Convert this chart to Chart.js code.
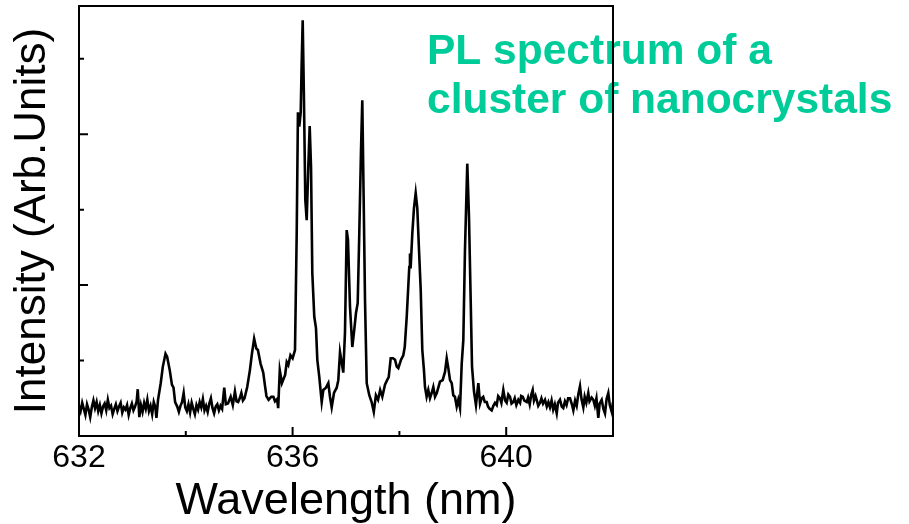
<!DOCTYPE html>
<html>
<head>
<meta charset="utf-8">
<script src="https://cdn.jsdelivr.net/npm/chart.js@4.4.1/dist/chart.umd.min.js"></script>
<style>
  body { margin: 0; background: #fff; }
  canvas { display: block; }
</style>
</head>
<body>
<canvas id="myChart" width="909" height="524"></canvas>
<script>
// PL spectrum (nm, arb. units)
var wavelength = [
  632.00, 632.03, 632.06, 632.09, 632.12, 632.15, 632.18, 632.21, 632.24, 632.27,
  632.30, 632.33, 632.36, 632.39, 632.42, 632.45, 632.48, 632.51, 632.54, 632.57,
  632.60, 632.63, 632.66, 632.69, 632.72, 632.75, 632.78, 632.81, 632.84, 632.87,
  632.90, 632.93, 632.96, 632.99, 633.02, 633.05, 633.08, 633.10, 633.13, 633.16,
  633.19, 633.22, 633.25, 633.28, 633.31, 633.34, 633.37, 633.40, 633.43, 633.45,
  633.48, 633.53, 633.57, 633.62, 633.65, 633.70, 633.74, 633.77, 633.80, 633.84,
  633.87, 633.90, 633.93, 633.96, 633.99, 634.02, 634.05, 634.08, 634.11, 634.14,
  634.17, 634.20, 634.23, 634.26, 634.29, 634.32, 634.35, 634.38, 634.41, 634.44,
  634.47, 634.50, 634.53, 634.56, 634.59, 634.62, 634.65, 634.68, 634.72, 634.75,
  634.79, 634.84, 634.88, 634.92, 634.95, 634.98, 635.01, 635.04, 635.07, 635.10,
  635.15, 635.20, 635.24, 635.28, 635.32, 635.35, 635.40, 635.45, 635.48, 635.51,
  635.55, 635.60, 635.64, 635.67, 635.71, 635.73, 635.76, 635.80, 635.86, 635.89,
  635.92, 635.96, 636.00, 636.045, 636.077, 636.10, 636.125, 636.152, 636.17, 636.189,
  636.213, 636.238, 636.264, 636.294, 636.32, 636.345, 636.369, 636.406, 636.438, 636.463,
  636.50, 636.545, 636.575, 636.625, 636.669, 636.70, 636.732, 636.775, 636.826, 636.856,
  636.888, 636.919, 636.949, 636.981, 637.013, 637.037, 637.075, 637.118, 637.155, 637.187,
  637.219, 637.249, 637.281, 637.305, 637.331, 637.356, 637.388, 637.436, 637.48, 637.52,
  637.56, 637.60, 637.64, 637.68, 637.73, 637.77, 637.80, 637.837, 637.88, 637.918,
  637.95, 637.98, 638.03, 638.073, 638.10, 638.137, 638.185, 638.198, 638.21, 638.242,
  638.273, 638.305, 638.335, 638.367, 638.399, 638.429, 638.46, 638.479, 638.51, 638.541,
  638.573, 638.605, 638.635, 638.667, 638.70, 638.76, 638.81, 638.854, 638.886, 638.916,
  638.948, 638.98, 639.009, 639.04, 639.073, 639.103, 639.135, 639.167, 639.197, 639.228,
  639.271, 639.303, 639.335, 639.36, 639.397, 639.434, 639.478, 639.51, 639.54, 639.57,
  639.60, 639.635, 639.66, 639.69, 639.728, 639.76, 639.79, 639.822, 639.85, 639.884,
  639.91, 639.946, 639.98, 640.009, 640.04, 640.071, 640.10, 640.133, 640.16, 640.19,
  640.227, 640.26, 640.28, 640.309, 640.34, 640.384, 640.41, 640.44, 640.47, 640.496,
  640.52, 640.55, 640.571, 640.60, 640.633, 640.66, 640.69, 640.727, 640.76, 640.79,
  640.82, 640.85, 640.88, 640.91, 640.946, 640.97, 641.007, 641.04, 641.069, 641.10,
  641.13, 641.16, 641.195, 641.23, 641.257, 641.29, 641.32, 641.35, 641.382, 641.41,
  641.444, 641.47, 641.50, 641.537, 641.56, 641.60, 641.631, 641.66, 641.69, 641.725,
  641.75, 641.788, 641.82, 641.85, 641.88, 641.912, 641.94, 641.976, 642.00
];
var intensity = [
  0.40, 0.33, 0.44, 0.36, 0.28, 0.42, 0.35, 0.25, 0.38, 0.47,
  0.37, 0.45, 0.33, 0.41, 0.30, 0.39, 0.43, 0.34, 0.48, 0.37,
  0.40, 0.29, 0.36, 0.42, 0.33, 0.39, 0.44, 0.31, 0.38, 0.35,
  0.41, 0.28, 0.37, 0.43, 0.34, 0.39, 0.46, 0.62, 0.25, 0.41,
  0.32, 0.44, 0.36, 0.48, 0.33, 0.40, 0.29, 0.45, 0.38, 0.24,
  0.48, 0.70, 0.92, 1.09, 1.05, 0.87, 0.68, 0.64, 0.45, 0.39,
  0.32, 0.40, 0.45, 0.57, 0.38, 0.33, 0.42, 0.31, 0.44, 0.36,
  0.29, 0.41, 0.35, 0.45, 0.38, 0.49, 0.34, 0.40, 0.32, 0.43,
  0.50, 0.37, 0.30, 0.39, 0.42, 0.34, 0.40, 0.36, 0.64, 0.42,
  0.43, 0.52, 0.41, 0.59, 0.46, 0.45, 0.50, 0.57, 0.47, 0.50,
  0.65, 0.87, 1.10, 1.29, 1.16, 1.14, 0.96, 0.84, 0.68, 0.53,
  0.48, 0.52, 0.52, 0.46, 0.49, 0.37, 0.87, 0.70, 0.81, 0.98,
  0.94, 1.07, 1.03, 1.14, 2.69, 4.29, 4.10, 4.29, 4.94, 5.51,
  4.45, 3.13, 2.86, 3.57, 4.11, 3.57, 2.16, 1.58, 1.43, 1.01,
  0.78, 0.45, 0.61, 0.64, 0.70, 0.52, 0.38, 0.57, 0.64, 0.74,
  1.11, 0.98, 0.84, 1.37, 2.73, 2.60, 1.71, 1.18, 1.41, 1.63,
  1.76, 2.69, 3.79, 4.45, 3.13, 1.80, 0.70, 0.54, 0.45, 0.32,
  0.54, 0.48, 0.61, 0.52, 0.68, 0.74, 0.78, 1.03, 1.03, 1.01,
  0.92, 0.90, 1.01, 1.07, 1.18, 1.58, 2.24, 2.42, 2.22, 2.69,
  3.02, 3.22, 3.02, 2.47, 1.94, 1.14, 0.87, 0.65, 0.52, 0.61,
  0.50, 0.57, 0.65, 0.52, 0.57, 0.72, 0.74, 0.85, 1.03, 0.90,
  0.74, 0.70, 0.54, 0.52, 0.39, 0.48, 0.37, 0.96, 1.27, 2.47,
  3.61, 2.91, 1.80, 0.92, 0.59, 0.41, 0.70, 0.43, 0.50, 0.52,
  0.45, 0.45, 0.39, 0.36, 0.34, 0.40, 0.44, 0.41, 0.53, 0.50,
  0.44, 0.61, 0.47, 0.44, 0.55, 0.52, 0.43, 0.45, 0.50, 0.41,
  0.48, 0.44, 0.53, 0.52, 0.47, 0.45, 0.51, 0.42, 0.55, 0.61,
  0.47, 0.53, 0.48, 0.40, 0.44, 0.50, 0.43, 0.48, 0.39, 0.45,
  0.38, 0.47, 0.35, 0.42, 0.30, 0.44, 0.48, 0.39, 0.37, 0.46,
  0.41, 0.50, 0.50, 0.42, 0.34, 0.47, 0.40, 0.55, 0.66, 0.49,
  0.38, 0.52, 0.44, 0.57, 0.46, 0.51, 0.48, 0.40, 0.50, 0.24,
  0.43, 0.48, 0.36, 0.30, 0.49, 0.57, 0.41, 0.32, 0.45
];

// tick marks (inside the frame, no y labels)
var xMajorTicks = [632, 636, 640];
var xMinorTicks = [634, 638];
var yMajorTicks = [2, 4];
var yMinorTicks = [1, 3, 5];

var noteLines = ['PL spectrum of a', 'cluster of nanocrystals'];

var fontFamily = '"Liberation Sans", Arial, Helvetica, sans-serif';

var points = wavelength.map((w, i) => ({ x: w, y: intensity[i] }));

// frame box, inward ticks and the green note
var framePlugin = {
  id: 'frame',
  beforeDatasetsDraw(chart) {
    var c = chart.ctx;
    c.save();
    c.fillStyle = '#00cc99';
    c.font = 'bold 42.5px ' + fontFamily;
    c.textBaseline = 'alphabetic';
    c.textAlign = 'left';
    c.fillText(noteLines[0], 427, 64);
    c.fillText(noteLines[1], 427, 113);
    c.restore();
  },
  afterDatasetsDraw(chart) {
    var c = chart.ctx, a = chart.chartArea;
    var xs = chart.scales.x, ys = chart.scales.y;
    c.save();
    c.strokeStyle = '#000';
    c.lineWidth = 2;
    c.strokeRect(a.left, a.top, a.right - a.left, a.bottom - a.top);
    c.beginPath();
    xMajorTicks.forEach(v => { var p = xs.getPixelForValue(v); c.moveTo(p, a.bottom); c.lineTo(p, a.bottom - 9); });
    xMinorTicks.forEach(v => { var p = xs.getPixelForValue(v); c.moveTo(p, a.bottom); c.lineTo(p, a.bottom - 5); });
    yMajorTicks.forEach(v => { var p = ys.getPixelForValue(v); c.moveTo(a.left, p); c.lineTo(a.left + 9, p); });
    yMinorTicks.forEach(v => { var p = ys.getPixelForValue(v); c.moveTo(a.left, p); c.lineTo(a.left + 5, p); });
    c.stroke();
    c.restore();
  }
};

var ctx = document.getElementById('myChart').getContext('2d');

var myChart = new Chart(ctx, {
  type: 'line',
  data: {
    datasets: [{
      data: points,
      borderColor: '#000',
      borderWidth: 2.6,
      pointRadius: 0,
      tension: 0,
      fill: false
    }]
  },
  options: {
    responsive: false,
    animation: false,
    layout: { padding: { top: 6, right: 296, bottom: 0, left: 0 } },
    plugins: {
      legend: { display: false },
      tooltip: { enabled: false }
    },
    scales: {
      x: {
        type: 'linear',
        min: 632,
        max: 642,
        grid: { display: false, drawTicks: false },
        border: { display: false },
        ticks: {
          stepSize: 2,
          autoSkip: false,
          maxRotation: 0,
          padding: 3,
          color: '#000',
          font: { size: 32, family: fontFamily },
          callback: v => (v % 4 === 0 ? String(v) : '')
        },
        title: {
          display: true,
          text: 'Wavelength (nm)',
          color: '#000',
          font: { size: 45, family: fontFamily, lineHeight: 1 },
          padding: { top: 0, bottom: 0 }
        },
        afterFit: s => { s.height = 88; }
      },
      y: {
        min: 0,
        max: 5.7,
        grid: { display: false, drawTicks: false },
        border: { display: false },
        ticks: { display: false },
        title: {
          display: true,
          text: 'Intensity (Arb.Units)',
          color: '#000',
          font: { size: 44, family: fontFamily },
          padding: { top: 6, bottom: 0 }
        },
        afterFit: s => { s.width = 79; }
      }
    }
  },
  plugins: [framePlugin]
});
</script>
</body>
</html>
